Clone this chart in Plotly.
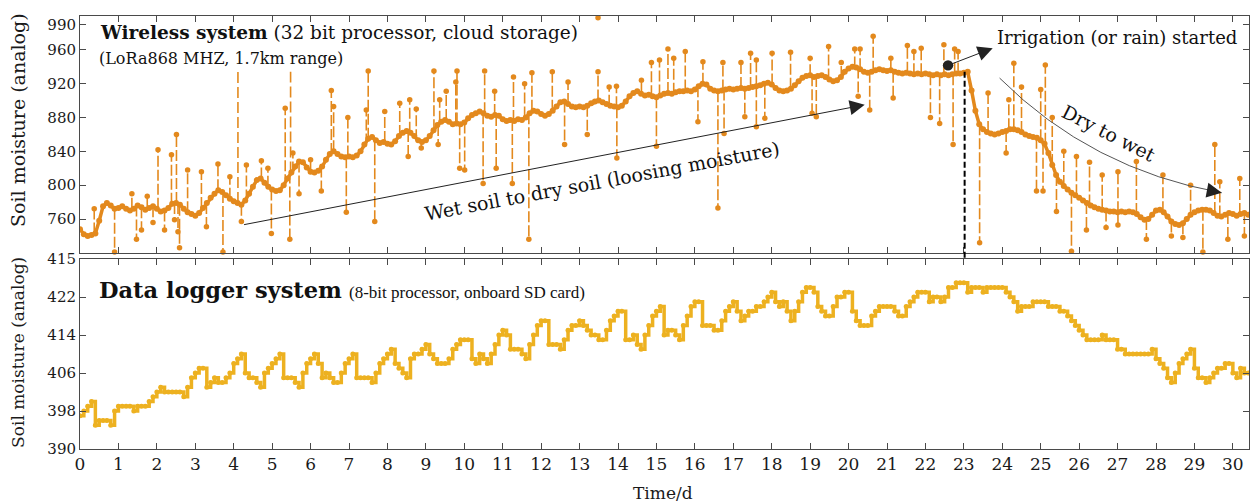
import numpy as np
import plotly.graph_objects as go

# ---------------- data ----------------
DT = 0.1  # days between read-off samples

# Wireless system: smoothed trace, one value every 0.1 d from t = 0.0 to 30.4
wireless_base = [
    748, 742, 740, 741, 743, 758, 775, 779, 776, 772,   # 0
    773, 775, 772, 770, 772, 776, 774, 771, 773, 775,   # 1
    772, 769, 770, 773, 778, 779, 777, 772, 768, 766,   # 2
    764, 767, 773, 779, 785, 790, 794, 792, 788, 784,   # 3
    781, 779, 777, 782, 790, 798, 806, 808, 803, 798,   # 4
    795, 793, 794, 800, 808, 815, 822, 828, 827, 821,   # 5
    816, 815, 817, 822, 830, 837, 840, 837, 834, 833,   # 6
    834, 833, 835, 840, 848, 855, 857, 853, 850, 851,   # 7
    849, 848, 852, 858, 862, 864, 862, 858, 853, 851,   # 8
    853, 858, 865, 871, 875, 877, 875, 872, 873, 872,   # 9
    874, 879, 883, 885, 887, 885, 882, 881, 883, 882,   # 10
    878, 876, 877, 876, 878, 877, 880, 885, 888, 887,   # 11
    884, 882, 884, 888, 893, 898, 899, 896, 893, 892,   # 12
    893, 892, 894, 897, 899, 900, 898, 896, 894, 893,   # 13
    892, 894, 899, 905, 909, 911, 908, 906, 907, 905,   # 14
    904, 906, 908, 909, 908, 910, 911, 911, 912, 911,   # 15
    913, 917, 920, 919, 914, 912, 911, 912, 913, 914,   # 16
    913, 914, 915, 914, 915, 916, 917, 918, 920, 921,   # 17
    919, 915, 912, 911, 912, 914, 918, 923, 927, 929,   # 18
    930, 928, 929, 930, 928, 925, 923, 924, 928, 934,   # 19
    938, 940, 939, 937, 934, 933, 934, 936, 937, 936,   # 20
    935, 936, 934, 933, 932, 933, 932, 931, 932, 931,   # 21
    932, 931, 930, 931, 930, 931, 930, 931, 932, 932,   # 22
    933, 934, 912, 888, 872, 866, 863, 861, 860, 861,   # 23
    863, 864, 866, 866, 865, 863, 860, 858, 857, 856,   # 24
    853, 849, 838, 824, 812, 804, 799, 795, 791, 788,   # 25
    785, 782, 779, 776, 774, 772, 771, 770, 769, 769,   # 26
    768, 769, 768, 769, 768, 766, 762, 759, 760, 765,   # 27
    770, 771, 768, 763, 757, 754, 753, 755, 760, 765,   # 28
    768, 770, 771, 771, 770, 767, 764, 763, 765, 767,   # 29
    766, 764, 766, 767, 765,                            # 30
]

# Wireless system: single-sample outliers (time, value)
spike_t = [0.37, 1.35, 1.75, 2.03, 2.38, 2.51, 2.8, 3.16, 3.59, 3.9, 4.33, 4.72, 4.89,
           5.34, 5.54, 6.0, 6.54, 6.6, 6.97, 7.45, 7.5, 7.93, 8.32, 8.58, 8.75, 9.21,
           9.36, 9.53, 9.78, 9.81, 10.53, 10.79, 11.28, 11.57, 11.76, 12.29, 12.7,
           13.48, 13.77, 13.96, 14.61, 14.87, 15.08, 15.3, 15.45, 15.75, 16.21, 16.73,
           17.2, 17.45, 17.6, 18.01, 18.49, 19.0, 19.48, 19.81, 20.16, 20.3, 20.64,
           21.1, 21.53, 21.7, 21.89, 22.48, 22.76, 22.85, 23.63, 24.17, 24.3, 24.5,
           25.0, 25.12, 25.3, 25.6, 25.93, 26.27, 26.6, 27.01, 27.49, 28.18, 28.9,
           29.53, 29.66, 30.18,
           0.9, 1.47, 1.6, 1.9, 2.2, 2.46, 2.55, 2.59, 3.29, 3.72, 4.2, 4.98, 5.46,
           5.7, 6.28, 6.93, 7.67, 8.54, 8.88, 9.32, 9.88, 10.01, 10.49, 10.83, 11.25,
           11.68, 12.61, 13.2, 13.97, 15.0, 16.08, 16.6, 16.76, 17.3, 17.6, 17.82,
           19.05, 19.16, 20.25, 20.55, 21.16, 22.13, 22.37, 22.72, 23.41, 24.1, 24.89,
           25.06, 25.41, 25.8, 26.19, 26.7, 27.01, 27.75, 28.4, 28.7, 29.22, 29.87, 30.3]
spike_v = [772, 790, 787, 842, 836, 860, 818, 816, 825, 810, 824, 829, 820,
           891, 838, 830, 912, 893, 880, 889, 935, 887, 897, 901, 890, 935,
           901, 911, 922, 935, 935, 911, 928, 920, 933, 934, 922,
           934, 916, 917, 924, 945, 948, 961, 950, 958, 946, 945,
           945, 956, 948, 956, 957, 950, 964, 945, 961, 961, 976,
           950, 965, 958, 962, 966, 961, 958, 909, 901, 944, 916,
           913, 942, 880, 840, 834, 827, 812, 816, 828, 812, 800,
           848, 804, 808,
           721, 736, 747, 756, 747, 759, 745, 726, 751, 721, 757, 743, 736,
           790, 793, 768, 757, 834, 844, 848, 820, 818, 802, 820, 802,
           736, 848, 860, 832, 846, 875, 773, 861, 881, 869, 879,
           885, 881, 905, 889, 903, 880, 873, 848, 732, 838, 793,
           793, 769, 722, 747, 750, 753, 736, 740, 738, 721, 736, 740]

# Wireless system: long dashed excursions drawn without an end marker
bare_t = [4.11, 5.48]
bare_top = [936, 934]
# Wireless system: isolated sample at the top edge
lone_t = [13.48]
lone_v = [998]

# Data logger system: one value every 0.1 d from t = 0.0 to 30.4
logger = [
    397, 398, 399, 400, 395, 396, 396, 396, 395, 398,   # 0
    399, 399, 399, 399, 398, 399, 399, 399, 400, 401,   # 1
    402, 403, 402, 402, 402, 402, 402, 401, 403, 405,   # 2
    406, 407, 407, 403, 404, 405, 404, 404, 405, 406,   # 3
    408, 409, 410, 406, 405, 405, 404, 403, 406, 407,   # 4
    408, 409, 410, 405, 405, 405, 404, 403, 406, 408,   # 5
    409, 410, 408, 405, 406, 405, 404, 404, 406, 408,   # 6
    409, 410, 405, 405, 405, 405, 404, 406, 408, 409,   # 7
    410, 411, 408, 407, 406, 405, 409, 410, 410, 411,   # 8
    412, 410, 409, 408, 408, 408, 409, 411, 412, 413,   # 9
    413, 413, 409, 408, 410, 409, 408, 410, 412, 414,   # 10
    415, 414, 411, 411, 411, 410, 409, 412, 414, 416,   # 11
    417, 417, 412, 412, 412, 411, 413, 415, 416, 416,   # 12
    417, 416, 415, 414, 414, 413, 413, 415, 417, 418,   # 13
    419, 419, 413, 413, 414, 412, 411, 414, 416, 418,   # 14
    419, 420, 414, 415, 415, 414, 413, 416, 418, 420,   # 15
    421, 421, 416, 416, 416, 415, 415, 417, 419, 420,   # 16
    421, 419, 417, 418, 419, 419, 420, 420, 421, 422,   # 17
    423, 421, 420, 421, 419, 417, 419, 421, 423, 424,   # 18
    424, 423, 420, 419, 418, 418, 420, 422, 422, 423,   # 19
    423, 419, 417, 416, 416, 416, 418, 419, 420, 420,   # 20
    420, 420, 419, 418, 418, 420, 421, 422, 423, 423,   # 21
    423, 421, 422, 422, 421, 422, 424, 424, 425, 425,   # 22
    425, 423, 424, 424, 424, 423, 424, 424, 424, 424,   # 23
    424, 423, 422, 421, 419, 420, 420, 420, 421, 421,   # 24
    421, 421, 420, 420, 420, 419, 419, 418, 417, 416,   # 25
    415, 414, 413, 413, 413, 413, 414, 413, 413, 413,   # 26
    411, 411, 410, 410, 410, 410, 410, 410, 410, 411,   # 27
    409, 408, 407, 405, 404, 406, 408, 409, 410, 411,   # 28
    407, 405, 405, 404, 405, 406, 407, 407, 408, 408,   # 29
    406, 405, 407, 406, 406,                            # 30
]

x_ticks = list(range(0, 31))
top_ticks = [760, 800, 840, 880, 920, 960, 990]
bot_ticks = [390, 398, 406, 414, 422, 430]
bot_ticktext = ["390", "398", "406", "414", "422", "415"]

# ---------------- styling ----------------
WL_COLOR = "#E3891D"
LG_COLOR = "#EDB120"
FRAME = "#4a4a4a"
SERIF = "DejaVu Serif"
X_RANGE = [0, 30.42]

# ---------------- build series ----------------
base_t = np.round(np.arange(len(wireless_base)) * DT, 2)


def base_at(t):
    return wireless_base[min(len(wireless_base) - 1, int(round(t / DT)))]


stem_x, stem_y = [], []
for t, v in zip(spike_t, spike_v):
    stem_x += [t, t, None]
    stem_y += [base_at(t), v, None]

bare_x, bare_y = [], []
for t, top in zip(bare_t, bare_top):
    bare_x += [t, t, None]
    bare_y += [base_at(t), top, None]

lg_t = np.round(np.arange(len(logger)) * DT, 2)

fig = go.Figure()
fig.add_trace(go.Scatter(
    x=stem_x, y=stem_y, mode="lines", xaxis="x", yaxis="y",
    line=dict(color=WL_COLOR, width=1.6, dash="11px,3px"), showlegend=False))
fig.add_trace(go.Scatter(
    x=bare_x, y=bare_y, mode="lines", xaxis="x", yaxis="y",
    line=dict(color=WL_COLOR, width=1.6, dash="11px,4px"), showlegend=False))
fig.add_trace(go.Scatter(
    x=base_t, y=wireless_base, mode="lines+markers", xaxis="x", yaxis="y",
    line=dict(color=WL_COLOR, width=3.5),
    marker=dict(color=WL_COLOR, size=6), showlegend=False))
fig.add_trace(go.Scatter(
    x=spike_t + lone_t, y=spike_v + lone_v, mode="markers", xaxis="x", yaxis="y",
    marker=dict(color=WL_COLOR, size=5.5), cliponaxis=False, showlegend=False))
fig.add_trace(go.Scatter(
    x=lg_t, y=logger, mode="lines+markers", xaxis="x2", yaxis="y2",
    line=dict(color=LG_COLOR, width=3.5, shape="hv"),
    marker=dict(color=LG_COLOR, size=5), showlegend=False))

axis_style = dict(showline=True, linecolor=FRAME, linewidth=1, mirror="ticks",
                  ticks="inside", ticklen=6, tickwidth=1, tickcolor=FRAME,
                  showgrid=False, zeroline=False, automargin=False)

fig.update_layout(
    width=1250, height=503,
    margin=dict(l=80, r=1, t=16, b=54, autoexpand=False),
    paper_bgcolor="white", plot_bgcolor="white",
    font=dict(family=SERIF, color="#1a1a1a"),
    hovermode=False,
    xaxis=dict(axis_style, domain=[0, 1], range=X_RANGE, anchor="y",
               tickvals=x_ticks, showticklabels=False),
    yaxis=dict(axis_style, domain=[0.453, 1], range=[720, 1000], anchor="x",
               tickvals=top_ticks, tickfont=dict(size=15, family=SERIF)),
    xaxis2=dict(axis_style, domain=[0, 1], range=X_RANGE, anchor="y2",
                tickvals=x_ticks, tickfont=dict(size=17, family=SERIF)),
    yaxis2=dict(axis_style, domain=[0, 0.4385], range=[390, 430], anchor="x2",
                tickvals=bot_ticks, ticktext=bot_ticktext,
                tickfont=dict(size=15, family=SERIF)),
)

ann = []
# axis titles
ann.append(dict(text="Soil moisture (analog)", xref="paper", yref="paper", x=-0.053, y=0.76,
                xanchor="center", yanchor="middle", textangle=-90, showarrow=False,
                font=dict(size=19, family=SERIF)))
ann.append(dict(text="Soil moisture (analog)", xref="paper", yref="paper", x=-0.053, y=0.222,
                xanchor="center", yanchor="middle", textangle=-90, showarrow=False,
                font=dict(size=17, family=SERIF)))
ann.append(dict(text="Time/d", xref="paper", yref="paper", x=0.4987, y=-0.101,
                xanchor="center", yanchor="middle", showarrow=False,
                font=dict(size=17, family=SERIF)))
# panel labels
ann.append(dict(text="<b>Wireless system</b> (32 bit processor, cloud storage)",
                xref="paper", yref="paper", x=0.0154, y=0.961, xanchor="left", yanchor="middle",
                showarrow=False, font=dict(size=18.5, family=SERIF, color="#111")))
ann.append(dict(text="(LoRa868 MHZ, 1.7km range)",
                xref="paper", yref="paper", x=0.0145, y=0.903, xanchor="left", yanchor="middle",
                showarrow=False, font=dict(size=16, family=SERIF, color="#111")))
ann.append(dict(text="<b>Data logger system</b> <span style='font-family:Liberation Serif;font-size:17px'>(8-bit processor, onboard SD card)</span>",
                xref="paper", yref="paper", x=0.0145, y=0.368, xanchor="left", yanchor="middle",
                showarrow=False, font=dict(size=22.5, family=SERIF, color="#111")))
# text annotations in the top panel
ann.append(dict(text="Wet soil to dry soil (loosing moisture)", xref="x", yref="y",
                x=13.58, y=805, textangle=-10.5, showarrow=False,
                font=dict(size=19, family=SERIF, color="#111")))
ann.append(dict(text="Irrigation (or rain) started", xref="x", yref="y",
                x=26.98, y=974, showarrow=False, font=dict(size=18, family=SERIF, color="#111")))
ann.append(dict(text="Dry to wet", xref="x", yref="y", x=26.77, y=862, textangle=27,
                showarrow=False, font=dict(size=19, family=SERIF, color="#111")))
# arrows
ann.append(dict(text="", xref="x", yref="y", x=20.42, y=895, axref="x", ayref="y",
                ax=4.23, ay=753, showarrow=True, arrowhead=2, arrowsize=3,
                arrowwidth=1, arrowcolor="#222", standoff=0))
ann.append(dict(text="", xref="x", yref="y", x=23.75, y=962, axref="x", ayref="y",
                ax=22.55, ay=941, showarrow=True, arrowhead=2, arrowsize=3,
                arrowside="end+start", startarrowhead=6, startarrowsize=2.6,
                arrowwidth=1, arrowcolor="#222", standoff=0, startstandoff=0))
ann.append(dict(text="", xref="x", yref="y", x=29.71, y=791, ax=-16, ay=-3,
                showarrow=True, arrowhead=2, arrowsize=3, arrowwidth=1,
                arrowcolor="#222", standoff=0))
fig.update_layout(annotations=ann)

fig.update_layout(shapes=[
    dict(type="path", xref="x", yref="y", path="M 23.93,926.6 Q 26.31,818.8 29.71,791",
         line=dict(color="#555", width=1)),
    dict(type="line", xref="x", yref="paper", x0=23.02, x1=23.02, y0=0.4415, y1=0.871,
         line=dict(color="black", width=2, dash="6px,3px")),
])

fig.write_html("out.html",
               config={"displayModeBar": False, "staticPlot": True},
               post_script="document.body.style.margin='0';document.body.style.overflow='hidden';")
